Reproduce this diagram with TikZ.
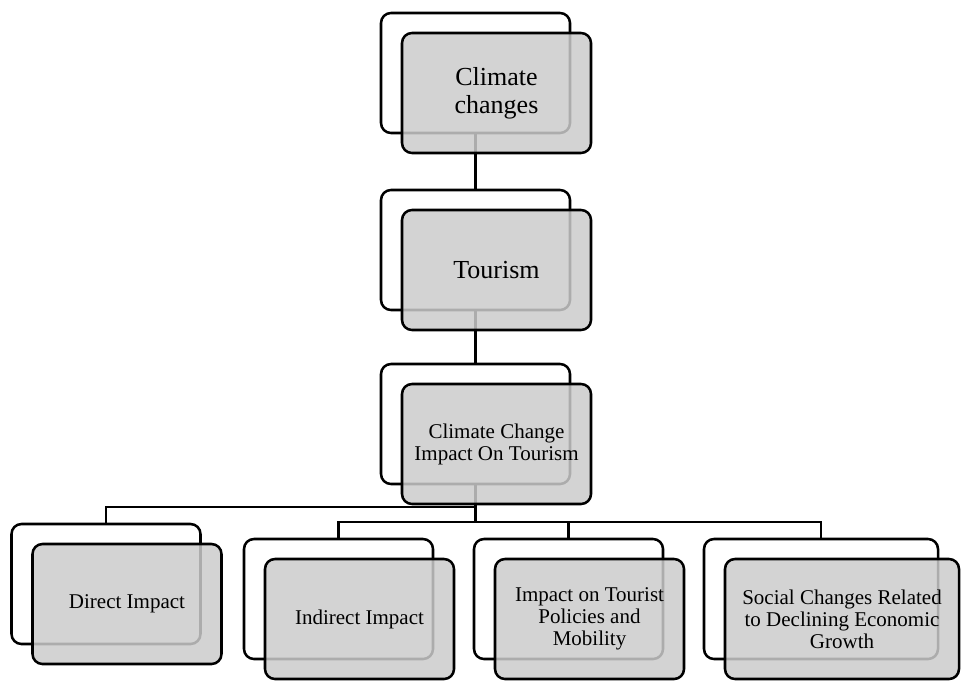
\documentclass[tikz,border=0pt]{standalone}
\usepackage{fontspec}
\setmainfont{Liberation Serif}
\definecolor{boxgray}{RGB}{203,203,203}

\begin{document}
\begin{tikzpicture}[x=0.75pt, y=-0.75pt,
  bk/.style={rectangle, rounded corners=7.5pt, draw, line width=1.9pt, minimum width=141.75pt, minimum height=90pt, inner sep=2pt},
  fr/.style={bk, fill=boxgray, fill opacity=0.85, text opacity=1, align=center, font=\fontsize{15.75}{16.5}\selectfont},
  big/.style={font=\fontsize{19.5}{21}\selectfont},
  wide/.style={minimum width=175.5pt},
  ln/.style={line width=1.7pt}]
  \useasboundingbox (0,0) rectangle (969,688);
  \node[bk] (cc-b) at (475.5,73) {};
  \node[bk] (tr-b) at (475.5,250) {};
  \node[bk] (im-b) at (475.5,424) {};
  \node[bk] (di-b) at (106,584) {};
  \node[bk] (in-b) at (338.5,599) {};
  \node[bk] (po-b) at (568.5,599) {};
  \node[bk, wide] (so-b) at (821,599) {};
  \coordinate (j1) at (475.5,507);
  \coordinate (j2) at (475.5,522);
  \draw[ln] (cc-b.south) -- (tr-b.north);
  \draw[ln] (tr-b.south) -- (im-b.north);
  \draw[ln] (im-b.south) -- (j1) -| (di-b.north);
  \draw[ln] (j1) -- (j2) -| (in-b.north);
  \draw[ln] (j2) -| (po-b.north);
  \draw[ln] (j2) -| (so-b.north);
  \node[fr, big] (cc) at ([shift={(21,20)}]cc-b.center) {Climate\\changes};
  \node[fr, big] (tr) at ([shift={(21,20)}]tr-b.center) {Tourism};
  \node[fr] (im) at ([shift={(21,20)}]im-b.center) {Climate Change\\Impact On Tourism};
  \node[fr] (di) at ([shift={(21,20)}]di-b.center) {Direct Impact};
  \node[fr] (in) at ([shift={(21,20)}]in-b.center) {Indirect Impact};
  \node[fr] (po) at ([shift={(21,20)}]po-b.center) {Impact on Tourist\\Policies and\\Mobility};
  \node[fr, wide] (so) at ([shift={(21,20)}]so-b.center) {Social Changes Related\\to Declining Economic\\Growth};
\end{tikzpicture}
\end{document}
